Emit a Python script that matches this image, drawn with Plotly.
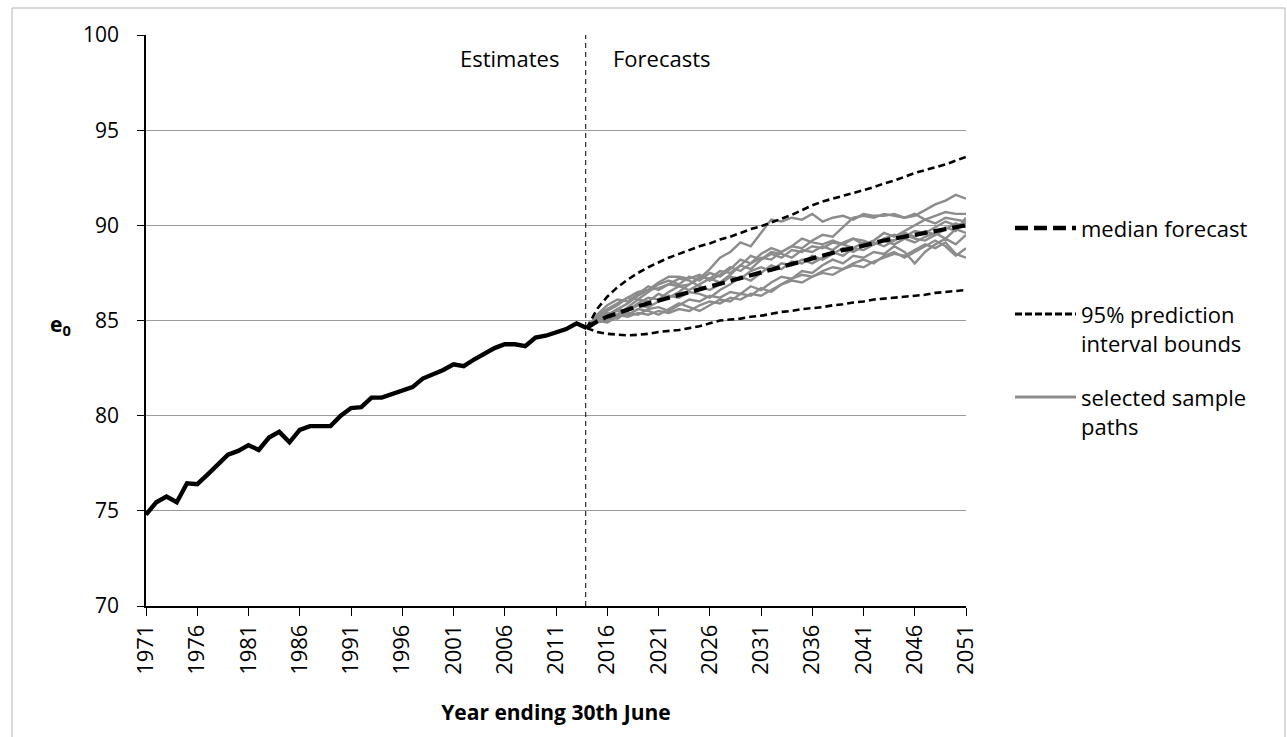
import plotly.graph_objects as go

# ---------------- data ----------------
hist_years = list(range(1971, 2015))
hist_e0 = [74.8, 75.45, 75.75, 75.45, 76.45, 76.4, 76.9, 77.4, 77.95, 78.15,
           78.45, 78.2, 78.85, 79.15, 78.6, 79.25, 79.45, 79.45, 79.45, 80.0,
           80.4, 80.45, 80.95, 80.95, 81.15, 81.35, 81.5, 81.95, 82.15, 82.4,
           82.7, 82.6, 82.95, 83.25, 83.55, 83.75, 83.75, 83.65, 84.1, 84.2,
           84.35, 84.55, 84.85, 84.6]

fc_years = list(range(2014, 2052))
median_fc = [84.6, 84.95, 85.2, 85.4, 85.6, 85.75, 85.9, 86.05, 86.2, 86.35,
             86.5, 86.65, 86.8, 86.95, 87.1, 87.25, 87.4, 87.55, 87.7, 87.85,
             88.0, 88.15, 88.3, 88.45, 88.55, 88.7, 88.8, 88.95, 89.05, 89.2,
             89.3, 89.4, 89.5, 89.6, 89.7, 89.8, 89.9, 90.0]
upper_95 = [84.6, 85.6, 86.25, 86.75, 87.15, 87.5, 87.8, 88.05, 88.3, 88.5,
            88.7, 88.9, 89.05, 89.25, 89.4, 89.6, 89.8, 89.95, 90.15, 90.35,
            90.55, 90.8, 91.05, 91.25, 91.4, 91.55, 91.7, 91.85, 92.0, 92.2,
            92.35, 92.55, 92.75, 92.9, 93.05, 93.2, 93.4, 93.6]
lower_95 = [84.6, 84.4, 84.3, 84.25, 84.22, 84.25, 84.3, 84.4, 84.45, 84.5,
            84.6, 84.7, 84.85, 85.0, 85.05, 85.1, 85.2, 85.25, 85.35, 85.45,
            85.5, 85.6, 85.65, 85.7, 85.8, 85.85, 85.95, 86.0, 86.1, 86.15,
            86.2, 86.25, 86.3, 86.35, 86.45, 86.5, 86.55, 86.6]

path_1 = [84.6, 85.2, 85.6, 85.9, 86.2, 86.5, 86.6, 86.7, 86.9, 86.8, 86.9, 87.2, 87.7,
          88.3, 88.6, 89.1, 88.9, 89.6, 90.3, 90.2, 90.4, 90.3, 90.6, 90.2, 90.4, 90.5,
          90.3, 90.6, 90.5, 90.5, 90.6, 90.4, 90.5, 90.8, 91.1, 91.3, 91.6, 91.4]
path_2 = [84.6, 85.0, 85.3, 85.6, 85.9, 86.3, 86.6, 87.0, 87.3, 87.3, 87.2, 87.4, 87.1,
          87.4, 87.8, 87.6, 88.0, 88.3, 88.2, 88.6, 88.9, 88.8, 89.2, 89.5, 89.4, 89.9,
          90.4, 90.5, 90.4, 90.6, 90.5, 90.4, 90.6, 90.3, 90.5, 90.7, 90.6, 90.6]
path_3 = [84.6, 85.1, 85.2, 85.6, 85.5, 85.9, 86.2, 86.1, 86.5, 86.8, 86.6, 86.9, 87.2,
          87.0, 87.4, 87.9, 87.7, 88.2, 88.5, 88.3, 88.7, 88.6, 88.9, 88.8, 89.1, 89.0,
          89.3, 89.2, 89.0, 89.3, 89.5, 89.4, 89.7, 89.6, 89.9, 90.2, 90.0, 90.1]
path_4 = [84.6, 84.9, 85.0, 85.3, 85.2, 85.4, 85.3, 85.5, 85.4, 85.6, 85.5, 85.8, 86.0,
          85.9, 86.2, 86.1, 86.4, 86.3, 86.6, 86.9, 87.1, 87.0, 87.3, 87.5, 87.4, 87.7,
          87.9, 87.8, 88.1, 88.3, 88.5, 88.4, 88.7, 89.0, 88.8, 89.1, 88.5, 88.3]
path_5 = [84.6, 85.0, 84.9, 85.2, 85.4, 85.3, 85.6, 85.7, 85.5, 85.8, 86.1, 86.0, 86.3,
          86.2, 86.5, 86.4, 86.8, 86.6, 87.0, 87.3, 87.2, 87.6, 87.5, 87.9, 88.2, 88.0,
          88.4, 88.3, 88.6, 88.5, 88.9, 88.6, 88.0, 88.6, 89.0, 89.3, 89.0, 89.5]
path_6 = [84.6, 85.3, 85.8, 86.1, 86.0, 86.4, 86.8, 86.6, 86.9, 87.2, 87.1, 86.8, 86.6,
          86.9, 87.3, 87.2, 87.6, 87.8, 87.6, 88.0, 87.9, 88.2, 88.0, 88.3, 88.6, 88.4,
          88.8, 88.7, 89.0, 89.2, 89.0, 89.3, 89.1, 89.4, 89.6, 89.3, 89.8, 89.6]
path_7 = [84.6, 84.9, 85.2, 85.1, 85.5, 85.8, 85.7, 86.0, 86.3, 86.2, 86.5, 86.4, 86.2,
          86.6, 86.9, 87.3, 87.1, 87.5, 87.9, 87.7, 88.1, 88.0, 88.4, 88.2, 88.5, 88.8,
          88.6, 88.9, 89.1, 88.9, 89.2, 89.5, 89.3, 89.2, 89.5, 89.8, 90.1, 89.9]
path_8 = [84.6, 85.2, 85.4, 85.3, 85.7, 86.1, 86.0, 86.4, 86.2, 86.5, 86.9, 87.3, 87.2,
          87.6, 87.5, 87.9, 88.4, 88.2, 88.6, 88.5, 88.3, 88.7, 88.6, 88.9, 88.7, 89.1,
          89.3, 89.0, 89.2, 89.6, 89.4, 89.7, 90.0, 90.3, 90.1, 90.4, 90.3, 90.2]
path_9 = [84.6, 85.0, 85.3, 85.5, 85.3, 85.6, 85.5, 85.3, 85.6, 85.9, 85.7, 85.5, 85.8,
          86.1, 86.0, 86.4, 86.3, 86.7, 86.5, 86.9, 87.2, 87.4, 87.3, 87.6, 87.8, 87.7,
          88.0, 88.2, 88.0, 88.4, 88.6, 88.3, 88.6, 88.9, 89.2, 88.9, 88.4, 88.8]
path_10 = [84.6, 85.1, 85.5, 85.8, 86.2, 86.1, 86.5, 86.9, 87.1, 86.9, 87.3, 87.1, 87.5,
           87.3, 87.7, 88.2, 88.0, 88.5, 88.8, 88.6, 88.9, 89.3, 89.1, 89.0, 89.2, 89.0,
           88.8, 89.1, 89.0, 89.3, 89.2, 89.6, 89.4, 89.7, 89.5, 89.9, 89.7, 90.4]
sample_paths = [path_1, path_2, path_3, path_4, path_5, path_6, path_7, path_8, path_9, path_10]

x_ticks = list(range(1971, 2052, 5))
y_ticks = [70, 75, 80, 85, 90, 95, 100]
boundary_year = 2013.9

legend_labels = ["median forecast", "95% prediction<br>interval bounds", "selected sample<br>paths"]

# ---------------- figure ----------------
FONT = "Open Sans"
GRAY = "#8c8c8c"
fig = go.Figure()

for p in sample_paths:
    fig.add_trace(go.Scatter(x=fc_years, y=p, mode="lines",
                             line=dict(color=GRAY, width=2.4), showlegend=False,
                             hoverinfo="skip"))

fig.add_trace(go.Scatter(x=fc_years, y=upper_95, mode="lines",
                         line=dict(color="black", width=2.6, dash="7px,4px"), showlegend=False))
fig.add_trace(go.Scatter(x=fc_years, y=lower_95, mode="lines",
                         line=dict(color="black", width=2.6, dash="7px,4px"), showlegend=False))
fig.add_trace(go.Scatter(x=fc_years, y=median_fc, mode="lines",
                         line=dict(color="black", width=4.2, dash="13px,6px"), showlegend=False))
fig.add_trace(go.Scatter(x=hist_years, y=hist_e0, mode="lines",
                         line=dict(color="black", width=4.4), showlegend=False))

# boundary between estimates and forecasts
fig.add_shape(type="line", xref="x", yref="y", x0=boundary_year, x1=boundary_year,
              y0=70, y1=100, line=dict(color="black", width=1, dash="5px,4px"), layer="above")

# outer border of chart area
fig.add_shape(type="rect", xref="paper", yref="paper",
              x0=(12 - 146) / 820, x1=(1285 - 146) / 820,
              y0=(606 - 760) / 571, y1=(606 - 8) / 571,
              line=dict(color="#b4b4b4", width=1), fillcolor="rgba(0,0,0,0)", layer="below")

# hand-drawn legend
def px_x(px):
    return (px - 146) / 820

def px_y(py):
    return (606 - py) / 571

LEG_SIZE = 22
legend_rows = [
    (228, dict(color="black", width=4.5, dash="13px,6px"), 228, legend_labels[0]),
    (314, dict(color="black", width=3, dash="7px,3px"), 297, legend_labels[1]),
    (397, dict(color=GRAY, width=3), 380, legend_labels[2]),
]
for ly, lstyle, ty, txt in legend_rows:
    fig.add_shape(type="line", xref="paper", yref="paper",
                  x0=px_x(1015), x1=px_x(1076), y0=px_y(ly), y1=px_y(ly), line=lstyle)
    if "<br>" in txt:
        fig.add_annotation(xref="paper", yref="paper", x=px_x(1079), y=px_y(ty),
                           xanchor="left", yanchor="top", text=txt, showarrow=False,
                           align="left", font=dict(family=FONT, size=LEG_SIZE, color="black"))
    else:
        fig.add_annotation(xref="paper", yref="paper", x=px_x(1079), y=px_y(ty),
                           xanchor="left", yanchor="middle", text=txt, showarrow=False,
                           align="left", font=dict(family=FONT, size=LEG_SIZE, color="black"))

fig.add_annotation(xref="x", yref="paper", x=boundary_year, y=px_y(58), xanchor="right",
                   yanchor="middle", xshift=-25, text="Estimates", showarrow=False,
                   font=dict(family=FONT, size=22, color="black"))
fig.add_annotation(xref="x", yref="paper", x=boundary_year, y=px_y(58), xanchor="left",
                   yanchor="middle", xshift=25, text="Forecasts", showarrow=False,
                   font=dict(family=FONT, size=22, color="black"))
fig.add_annotation(xref="paper", yref="paper", x=px_x(60), y=px_y(325), xanchor="center",
                   yanchor="middle", text="<b>e<sub>0</sub></b>", showarrow=False,
                   font=dict(family=FONT, size=21, color="black"))

fig.update_layout(
    width=1287, height=737,
    margin=dict(l=146, r=321, t=35, b=131),
    paper_bgcolor="white", plot_bgcolor="white",
    font=dict(family=FONT, color="black"),
    showlegend=False,
    xaxis=dict(range=[1971, 2051], tickmode="array", tickvals=x_ticks,
               ticktext=[str(v) for v in x_ticks], tickangle=-90,
               ticks="outside", ticklen=8, tickcolor="black", tickwidth=1,
               showline=True, linecolor="black", linewidth=1.5,
               showgrid=False, zeroline=False,
               tickfont=dict(family=FONT, size=22, color="black"),
               title=dict(text="<b>Year ending 30th June</b>", standoff=31,
                          font=dict(family=FONT, size=21, color="black"))),
    yaxis=dict(range=[70, 100], tickmode="array", tickvals=y_ticks,
               ticks="outside", ticklen=7, tickcolor="black", tickwidth=1,
               ticklabelstandoff=14,
               showline=True, linecolor="black", linewidth=1.5,
               showgrid=True, gridcolor="#9a9a9a", gridwidth=1.3, zeroline=False,
               tickfont=dict(family=FONT, size=21, color="black")),
)

fig.write_html("out.html")
